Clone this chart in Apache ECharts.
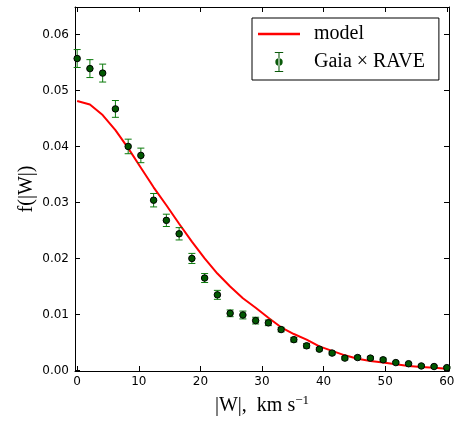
<!DOCTYPE html>
<html>
<head>
<meta charset="utf-8">
<script src="https://cdn.jsdelivr.net/npm/echarts@6/dist/echarts.min.js"></script>
<style>html,body{margin:0;padding:0;background:#fff;}#c{width:459px;height:421px;}</style>
</head>
<body>
<div id="c"></div>
<script>
// |W| bin centres (km/s)
const wValues = [0, 2.07, 4.14, 6.21, 8.28, 10.34, 12.41, 14.48, 16.55, 18.62, 20.69, 22.76, 24.83, 26.9, 28.97, 31.03, 33.1, 35.17, 37.24, 39.31, 41.38, 43.45, 45.52, 47.59, 49.66, 51.72, 53.79, 55.86, 57.93, 60];
// Gaia x RAVE measured f(|W|)
const gaiaValues = [0.0557, 0.0539, 0.0531, 0.0467, 0.0400, 0.0384, 0.0304, 0.0268, 0.0244, 0.0200, 0.0165, 0.0135, 0.0102, 0.0099, 0.0089, 0.0085, 0.0073, 0.0055, 0.0044, 0.0038, 0.0031, 0.0022, 0.0023, 0.0022, 0.0019, 0.0014, 0.0012, 0.0008, 0.0007, 0.0005];
// error bar half-lengths
const gaiaErrors = [0.0016, 0.0016, 0.0016, 0.0015, 0.0013, 0.0013, 0.0012, 0.0011, 0.0011, 0.0009, 0.0008, 0.0008, 0.0006, 0.0007, 0.0006, 0.0005, 0.0004, 0.0004, 0.0004, 0.0003, 0.0003, 0.0003, 0.0003, 0.0003, 0.0003, 0.0002, 0.0002, 0.0002, 0.0002, 0.0002];
// model curve
const modelValues = [0.0481, 0.0475, 0.0456, 0.0429, 0.0397, 0.0362, 0.0327, 0.0295, 0.0262, 0.0230, 0.0200, 0.0173, 0.0150, 0.0129, 0.0112, 0.0094, 0.0077, 0.0065, 0.0055, 0.0043, 0.0035, 0.0027, 0.0021, 0.0017, 0.0014, 0.0011, 0.0008, 0.0006, 0.0005, 0.0003];
const xTicks = [0, 10, 20, 30, 40, 50, 60];
const yTicks = [0, 0.01, 0.02, 0.03, 0.04, 0.05, 0.06];

const modelData = wValues.map((w, i) => [w, modelValues[i]]);
const gaiaData = wValues.map((w, i) => [w, gaiaValues[i]]);
const errData = wValues.map((w, i) => [w, gaiaValues[i] - gaiaErrors[i], gaiaValues[i] + gaiaErrors[i]]);

const chart = echarts.init(document.getElementById('c'), null, {renderer: 'canvas'});
const tickFont = {fontFamily: 'DejaVu Sans', fontSize: 12, color: '#000'};
const axisLine = {show: true, onZero: false, lineStyle: {color: '#000', width: 1}};

function xAx(pos, labels) {
  return {
    type: 'value', position: pos, min: -0.35, max: 60.35,
    axisLine: axisLine,
    axisTick: {show: true, inside: true, length: 5, customValues: xTicks, lineStyle: {color: '#000', width: 1}},
    axisLabel: Object.assign({show: labels, customValues: xTicks, margin: 5}, tickFont),
    splitLine: {show: false}
  };
}
function yAx(pos, labels) {
  return {
    type: 'value', position: pos, min: -0.0001, max: 0.0649,
    axisLine: axisLine,
    axisTick: {show: true, inside: true, length: 5, customValues: yTicks, lineStyle: {color: '#000', width: 1}},
    axisLabel: Object.assign({show: labels, customValues: yTicks, margin: 6, formatter: v => v.toFixed(2)}, tickFont),
    splitLine: {show: false}
  };
}
const xBottom = xAx('bottom', true);
xBottom.name = '{n||W|,  km s}{s|−1}';
xBottom.nameLocation = 'middle';
xBottom.nameGap = 23;
xBottom.nameMoveOverlap = false;
xBottom.nameTextStyle = {
  rich: {
    n: {fontFamily: 'Liberation Serif', fontSize: 20, color: '#000', lineHeight: 22, verticalAlign: 'bottom'},
    s: {fontFamily: 'Liberation Serif', fontSize: 13, color: '#000', lineHeight: 22, verticalAlign: 'top'}
  }
};
const yLeft = yAx('left', true);
yLeft.name = 'f(|W|)';
yLeft.nameLocation = 'middle';
yLeft.nameGap = 38;
yLeft.nameMoveOverlap = false;
yLeft.nameTextStyle = {fontFamily: 'Liberation Serif', fontSize: 20, color: '#000'};

const legendIconLine = 'path://M0,0 H42 V2.4 H0 Z';
const legendIconErr = 'path://M-4,-9.5 H4 V-8.5 H-4 Z M-0.5,-9 H0.5 V9 H-0.5 Z M-4,8.5 H4 V9.5 H-4 Z M-3.5,0 A3.5,3.5 0 1,0 3.5,0 A3.5,3.5 0 1,0 -3.5,0 Z';

chart.setOption({
  animation: false,
  backgroundColor: '#fff',
  grid: {left: 75, right: 10, top: 7, bottom: 45, containLabel: false},
  xAxis: [xBottom, xAx('top', false)],
  yAxis: [yLeft, yAx('right', false)],
  legend: {
    orient: 'vertical', left: 252, top: 18,
    backgroundColor: '#fff', borderColor: '#000', borderWidth: 1, borderRadius: 0,
    padding: [6, 14, 8, 6], itemGap: 8, itemWidth: 42, itemHeight: 20,
    textStyle: {fontFamily: 'Liberation Serif', fontSize: 20, color: '#000', padding: [0, 0, 0, 9]},
    selectedMode: false,
    data: [
      {name: 'model', icon: legendIconLine, itemStyle: {color: '#ff0000'}},
      {name: 'Gaia × RAVE', icon: legendIconErr, itemStyle: {color: '#0a5a0a'}}
    ]
  },
  series: [
    {
      name: 'model', type: 'line', data: modelData, showSymbol: false, symbol: 'none',
      lineStyle: {color: '#ff0000', width: 2}, itemStyle: {color: '#ff0000'}, z: 2
    },
    {
      name: 'Gaia × RAVE', type: 'custom', data: errData, z: 3,
      encode: {x: 0, y: [1, 2]},
      renderItem: function (params, api) {
        const x = api.value(0);
        const lo = api.coord([x, api.value(1)]);
        const hi = api.coord([x, api.value(2)]);
        const cw = 3.5;
        const st = {stroke: '#0b7a0b', lineWidth: 1};
        return {
          type: 'group',
          children: [
            {type: 'line', shape: {x1: lo[0], y1: lo[1], x2: hi[0], y2: hi[1]}, style: st},
            {type: 'line', shape: {x1: lo[0] - cw, y1: lo[1], x2: lo[0] + cw, y2: lo[1]}, style: st},
            {type: 'line', shape: {x1: hi[0] - cw, y1: hi[1], x2: hi[0] + cw, y2: hi[1]}, style: st}
          ]
        };
      }
    },
    {
      name: 'Gaia × RAVE', type: 'scatter', data: gaiaData, symbol: 'circle', symbolSize: 6.5, z: 4,
      itemStyle: {color: '#005800', borderColor: '#000', borderWidth: 1, opacity: 1}
    }
  ]
});
</script>
</body>
</html>
